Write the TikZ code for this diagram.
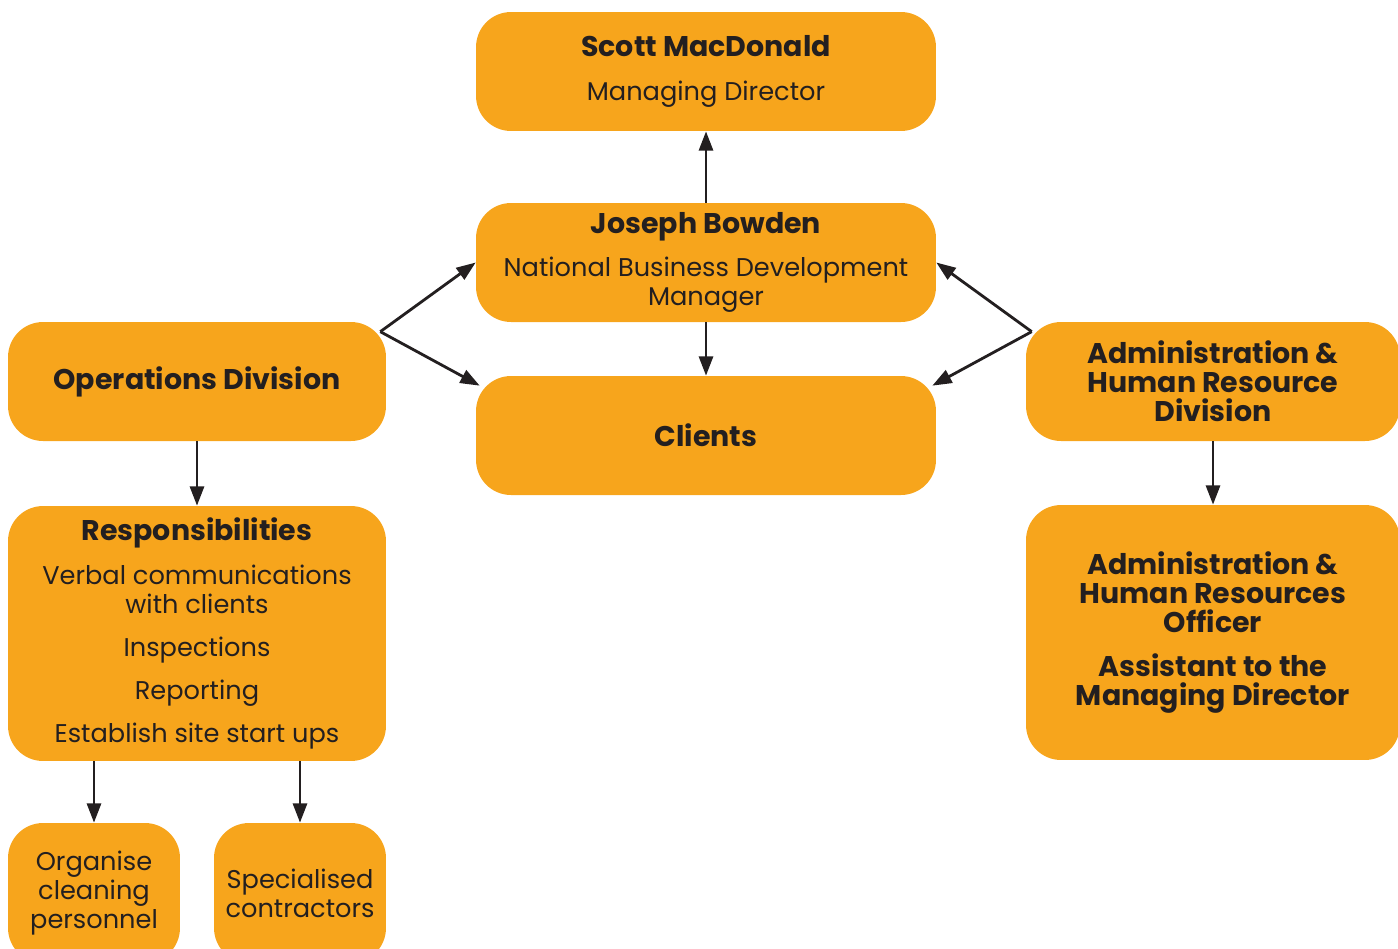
\documentclass[tikz,border=0pt]{standalone}
\usepackage{fontspec}
\setmainfont{Poppins}
\usetikzlibrary{calc}
\usetikzlibrary{arrows.meta}
\definecolor{boxorange}{HTML}{F7A51C}
\definecolor{inkdark}{HTML}{231F20}
\newcommand{\headtxt}[1]{{\fontsize{16.2}{16.5}\selectfont\bfseries #1}}
\tikzset{ org_box/.style = {fill=boxorange, rounded corners=0.7cm, align=center, inner sep=0pt, text=inkdark, minimum height=2.38cm, font=\fontsize{14.6}{16.5}\selectfont} }
\tikzset{ bold_text/.style = {font=\fontsize{16.2}{16.5}\selectfont\bfseries} }
\tikzset{ wide_box/.style = {org_box, minimum width=9.2cm} }
\tikzset{ side_box/.style = {org_box, minimum width=7.56cm} }
\tikzset{ small_box/.style = {org_box, minimum width=3.44cm, minimum height=2.8cm} }
\tikzset{ link/.style = {-{Triangle[length=11pt,width=8pt]}, line width=1.6pt, draw=inkdark} }

\begin{document}
\begin{tikzpicture}[x=0.02cm,y=-0.02cm]
\useasboundingbox (0,0) rectangle (1398,948);
\node[wide_box] (scott) at (706,71.5) {\headtxt{Scott MacDonald}\\[9pt] Managing Director};
\node[wide_box] (joseph) at (706,262.5) {\headtxt{Joseph Bowden}\\[8pt] National Business Development\\ Manager};
\node[wide_box] (clients) at (706,435.5) {\headtxt{Clients}};
\node[side_box] (ops) at (197,381.5) {\headtxt{Operations Division}};
\node[side_box, bold_text, minimum width=7.48cm] (admin) at (1213,381.5) {Administration \&\\ Human Resource\\ Division};
\node[side_box, minimum height=5.1cm] (resp) at (197,633.5) {\headtxt{Responsibilities}\\[8pt] Verbal communications\\ with clients\\[8pt] Inspections\\[8pt] Reporting\\[8pt] Establish site start ups};
\node[side_box, bold_text, minimum width=7.48cm, minimum height=5.1cm] (officer) at (1213,632.5) {Administration \&\\ Human Resources\\ Officer\\[8pt] Assistant to the\\ Managing Director};
\node[small_box] (organise) at (94,893) {Organise\\ cleaning\\ personnel};
\node[small_box] (special) at (300,893) {Specialised\\ contractors};
% connectors
\coordinate (ops_out) at ($(ops.north east)+(-6,10)$);
\coordinate (admin_out) at ($(admin.north west)+(6,10)$);
\draw[link] (joseph.north) -- (scott.south);
\draw[link] (joseph.south) -- (clients.north);
\draw[link] (ops_out) -- (joseph.west);
\draw[link] (ops_out) -- ($(clients.north west)+(4,10)$);
\draw[link] (admin_out) -- (joseph.east);
\draw[link] (admin_out) -- ($(clients.north east)+(-4,10)$);
\draw[link] (ops.south) -- (resp.north);
\draw[link] (admin.south) -- (officer.north);
\draw[link] (organise.north |- resp.south) -- (organise.north);
\draw[link] (special.north |- resp.south) -- (special.north);
\end{tikzpicture}
\end{document}
